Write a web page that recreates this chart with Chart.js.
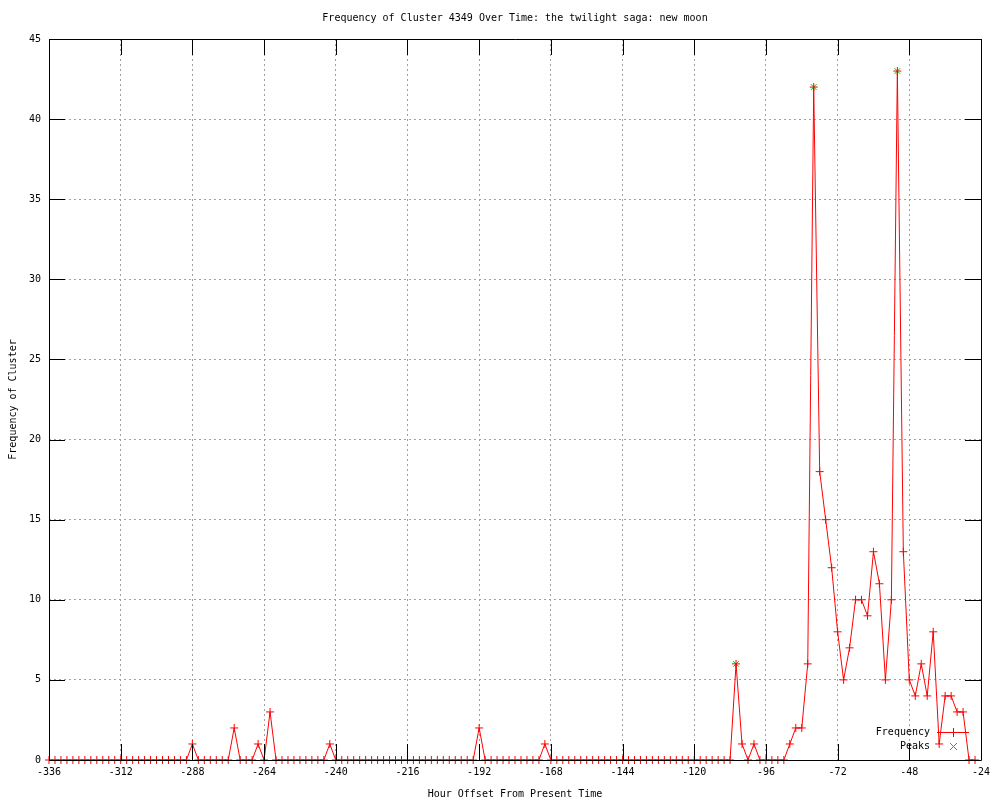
<!DOCTYPE html>
<html>
<head>
<meta charset="utf-8">
<script src="https://cdn.jsdelivr.net/npm/chart.js@4/dist/chart.umd.min.js"></script>
<style>
  html, body { margin: 0; padding: 0; background: #fff; }
  #wrap { width: 1000px; height: 800px; }
</style>
</head>
<body>
<div id="wrap"><canvas id="clusterChart" width="1000" height="800"></canvas></div>
<script>
const hours = [
  -336, -334, -332, -330, -328, -326, -324, -322, -320, -318, -316, -314,
  -312, -310, -308, -306, -304, -302, -300, -298, -296, -294, -292, -290,
  -288, -286, -284, -282, -280, -278, -276, -274, -272, -270, -268, -266,
  -264, -262, -260, -258, -256, -254, -252, -250, -248, -246, -244, -242,
  -240, -238, -236, -234, -232, -230, -228, -226, -224, -222, -220, -218,
  -216, -214, -212, -210, -208, -206, -204, -202, -200, -198, -196, -194,
  -192, -190, -188, -186, -184, -182, -180, -178, -176, -174, -172, -170,
  -168, -166, -164, -162, -160, -158, -156, -154, -152, -150, -148, -146,
  -144, -142, -140, -138, -136, -134, -132, -130, -128, -126, -124, -122,
  -120, -118, -116, -114, -112, -110, -108, -106, -104, -102, -100, -98,
  -96, -94, -92, -90, -88, -86, -84, -82, -80, -78, -76, -74,
  -72, -70, -68, -66, -64, -62, -60, -58, -56, -54, -52, -50,
  -48, -46, -44, -42, -40, -38, -36, -34, -32, -30, -28, -26
];
const frequency = [
  0, 0, 0, 0, 0, 0, 0, 0, 0, 0, 0, 0,
  0, 0, 0, 0, 0, 0, 0, 0, 0, 0, 0, 0,
  1, 0, 0, 0, 0, 0, 0, 2, 0, 0, 0, 1,
  0, 3, 0, 0, 0, 0, 0, 0, 0, 0, 0, 1,
  0, 0, 0, 0, 0, 0, 0, 0, 0, 0, 0, 0,
  0, 0, 0, 0, 0, 0, 0, 0, 0, 0, 0, 0,
  2, 0, 0, 0, 0, 0, 0, 0, 0, 0, 0, 1,
  0, 0, 0, 0, 0, 0, 0, 0, 0, 0, 0, 0,
  0, 0, 0, 0, 0, 0, 0, 0, 0, 0, 0, 0,
  0, 0, 0, 0, 0, 0, 0, 6, 1, 0, 1, 0,
  0, 0, 0, 0, 1, 2, 2, 6, 42, 18, 15, 12,
  8, 5, 7, 10, 10, 9, 13, 11, 5, 10, 43, 13,
  5, 4, 6, 4, 8, 1, 4, 4, 3, 3, 0, 0
];
const peakHours = [-106, -80, -52];
const peakValues = [6, 42, 43];

const xMin = -336, xMax = -24, xStep = 24;
const yMin = 0, yMax = 45, yStep = 5;

const FONT = "'DejaVu Sans Mono', 'Liberation Mono', monospace";
const RED = "#ff0000";
const GREEN = "#00c000";

// gnuplot style frame: full border, inward ticks on all four sides, key in the corner
const gnuFrame = {
  id: "gnuFrame",
  afterDatasetsDraw(chart) {
    const { ctx, chartArea: a, scales: { x, y } } = chart;
    const tick = 16;
    ctx.save();
    ctx.strokeStyle = "#000";
    ctx.lineWidth = 1;
    ctx.beginPath();
    ctx.rect(a.left + 0.5, a.top + 0.5, a.right - a.left, a.bottom - a.top);
    x.ticks.forEach(t => {
      const px = Math.round(x.getPixelForValue(t.value)) + 0.5;
      ctx.moveTo(px, a.bottom); ctx.lineTo(px, a.bottom - tick);
      ctx.moveTo(px, a.top); ctx.lineTo(px, a.top + tick);
    });
    y.ticks.forEach(t => {
      const py = Math.round(y.getPixelForValue(t.value)) + 0.5;
      ctx.moveTo(a.left, py); ctx.lineTo(a.left + tick, py);
      ctx.moveTo(a.right, py); ctx.lineTo(a.right - tick, py);
    });
    ctx.stroke();

    // key
    ctx.font = "10px " + FONT;
    ctx.fillStyle = "#000";
    ctx.textAlign = "right";
    ctx.textBaseline = "middle";
    const kx = a.right - 51, ky = a.bottom - 28;
    ctx.fillText("Frequency", kx, ky);
    ctx.fillText("Peaks", kx, ky + 14);
    ctx.strokeStyle = RED;
    ctx.beginPath();
    ctx.moveTo(kx + 7, ky + 0.5); ctx.lineTo(kx + 39, ky + 0.5);
    ctx.moveTo(kx + 23.5, ky - 4); ctx.lineTo(kx + 23.5, ky + 5);
    ctx.stroke();
    ctx.strokeStyle = GREEN;
    ctx.beginPath();
    ctx.moveTo(kx + 20, ky + 11); ctx.lineTo(kx + 27, ky + 18);
    ctx.moveTo(kx + 27, ky + 11); ctx.lineTo(kx + 20, ky + 18);
    ctx.stroke();
    ctx.restore();
  }
};

const freqPoints = hours.map((h, i) => ({ x: h, y: frequency[i] }));
const peakPoints = peakHours.map((h, i) => ({ x: h, y: peakValues[i] }));

new Chart(document.getElementById("clusterChart"), {
  type: "line",
  data: {
    datasets: [
      {
        label: "Frequency",
        data: freqPoints,
        borderColor: RED,
        borderWidth: 1,
        tension: 0,
        pointStyle: "cross",
        pointRadius: 4,
        pointBorderColor: RED,
        pointBorderWidth: 1,
        fill: false,
        clip: false
      },
      {
        label: "Peaks",
        data: peakPoints,
        showLine: false,
        pointStyle: "crossRot",
        pointRadius: 4,
        pointBorderColor: GREEN,
        pointBorderWidth: 1,
        clip: false
      }
    ]
  },
  options: {
    responsive: false,
    animation: false,
    events: [],
    layout: { padding: { left: 0, right: 19, top: 0, bottom: 0 } },
    plugins: {
      legend: { display: false },
      tooltip: { enabled: false },
      title: {
        display: true,
        fullSize: false,
        text: "Frequency of Cluster 4349 Over Time: the twilight saga: new moon",
        color: "#000",
        font: { family: FONT, size: 10, weight: "normal", lineHeight: 1.2 },
        padding: { top: 12, bottom: 15 }
      }
    },
    scales: {
      x: {
        type: "linear",
        min: xMin,
        max: xMax,
        afterFit: s => { s.height = 40; },
        ticks: {
          stepSize: xStep,
          color: "#000",
          font: { family: FONT, size: 10 },
          padding: 6,
          maxRotation: 0,
          autoSkip: false
        },
        grid: { color: "#a0a0a0", lineWidth: 1, drawTicks: false },
        border: { display: false, dash: [2, 3] },
        title: {
          display: true,
          text: "Hour Offset From Present Time",
          color: "#000",
          font: { family: FONT, size: 10, lineHeight: 1.2 },
          padding: { top: 1, bottom: 0 }
        }
      },
      y: {
        min: yMin,
        max: yMax,
        afterFit: s => { s.width = 49; },
        ticks: {
          stepSize: yStep,
          color: "#000",
          font: { family: FONT, size: 10 },
          padding: 8
        },
        grid: { color: "#a0a0a0", lineWidth: 1, drawTicks: false },
        border: { display: false, dash: [2, 3] },
        title: {
          display: true,
          text: "Frequency of Cluster",
          color: "#000",
          font: { family: FONT, size: 10, lineHeight: 1.2 },
          padding: { top: 7, bottom: 0 }
        }
      }
    }
  },
  plugins: [gnuFrame]
});
</script>
</body>
</html>
